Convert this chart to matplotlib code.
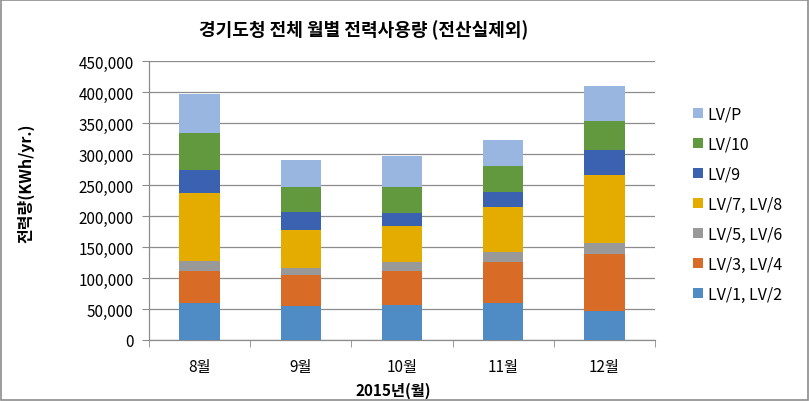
import matplotlib
matplotlib.use("Agg")
import matplotlib.pyplot as plt
from matplotlib.patches import Patch, Rectangle
from matplotlib.ticker import FuncFormatter
import numpy as np

plt.rcParams['font.family'] = ['Noto Sans CJK KR', 'DejaVu Sans']

months = ['8월', '9월', '10월', '11월', '12월']
series_names = ['LV/1, LV/2', 'LV/3, LV/4', 'LV/5, LV/6', 'LV/7, LV/8', 'LV/9', 'LV/10', 'LV/P']
lv12 = [59700, 54300, 57000, 60200, 46800]
lv34 = [51600, 50000, 54800, 65100, 92400]
lv56 = [16100, 12400, 13500, 17200, 17800]
lv78 = [110200, 61300, 58000, 71500, 109700]
lv9 = [37100, 28500, 22100, 25200, 40300]
lv10 = [59700, 39700, 40800, 42000, 46800]
lvp = [62900, 44700, 50600, 40800, 56400]
colors = ['#4F8BC4', '#D86B26', '#999999', '#E5AC00', '#3B62B0', '#62993E', '#98B6E0']

fig = plt.figure(figsize=(8.1, 4.02), dpi=100)
ax = fig.add_axes([149/810, 1-341/402, (655-149)/810, (341-62)/402])

x = np.arange(len(months))
bottom = np.zeros(len(months))
handles = []
for name, vals, c in zip(series_names, [lv12, lv34, lv56, lv78, lv9, lv10, lvp], colors):
    ax.bar(x, vals, width=0.4, bottom=bottom, color=c, zorder=3)
    bottom += np.array(vals)
    handles.append(Patch(facecolor=c, label=name))

ax.set_xlim(-0.5, 4.5)
ax.set_ylim(0, 450000)
ax.set_yticks(np.arange(0, 450001, 50000))
ax.yaxis.set_major_formatter(FuncFormatter(lambda v, p: f"{int(v):,}"))
ax.grid(axis='y', color='#8C8C8C', linewidth=0.9, zorder=0)
ax.set_xticks(x)
ax.set_xticklabels(months)
ax.set_xticks(np.arange(-0.5, 4.6, 1.0), minor=True)
ax.tick_params(axis='x', which='major', length=0, labelsize=11, pad=13)
ax.tick_params(axis='x', which='minor', length=5, color='#8C8C8C')
ax.tick_params(axis='y', length=5, color='#8C8C8C', labelsize=11, pad=6)
for s in ['top', 'right']:
    ax.spines[s].set_visible(False)
for s in ['left', 'bottom']:
    ax.spines[s].set_color('#8C8C8C')
    ax.spines[s].set_linewidth(0.9)

fig.text(393/810, 1-391/402, '2015년(월)', ha='center', va='center',
         fontsize=11, fontweight='bold')
fig.text(26/810, 1-183/402, '전력량(KWh/yr.)', rotation=90, ha='center', va='center',
         fontsize=11.5, fontweight='bold')
fig.text(364/810, 1-30/402, '경기도청 전체 월별 전력사용량 (전산실제외)', ha='center', va='center',
         fontsize=13, fontweight='bold')

fig.legend(handles=handles[::-1], loc='upper left', bbox_to_anchor=(687/810, 1-100/402),
           frameon=False, fontsize=11.5, handlelength=0.6, handleheight=0.6,
           handletextpad=0.3, labelspacing=0.82, borderaxespad=0)

fig.add_artist(Rectangle((0.001, 0.002), 0.997, 0.995, transform=fig.transFigure,
                         fill=False, edgecolor='#8C8C8C', linewidth=1.2))

fig.savefig('out.png', dpi=100)
